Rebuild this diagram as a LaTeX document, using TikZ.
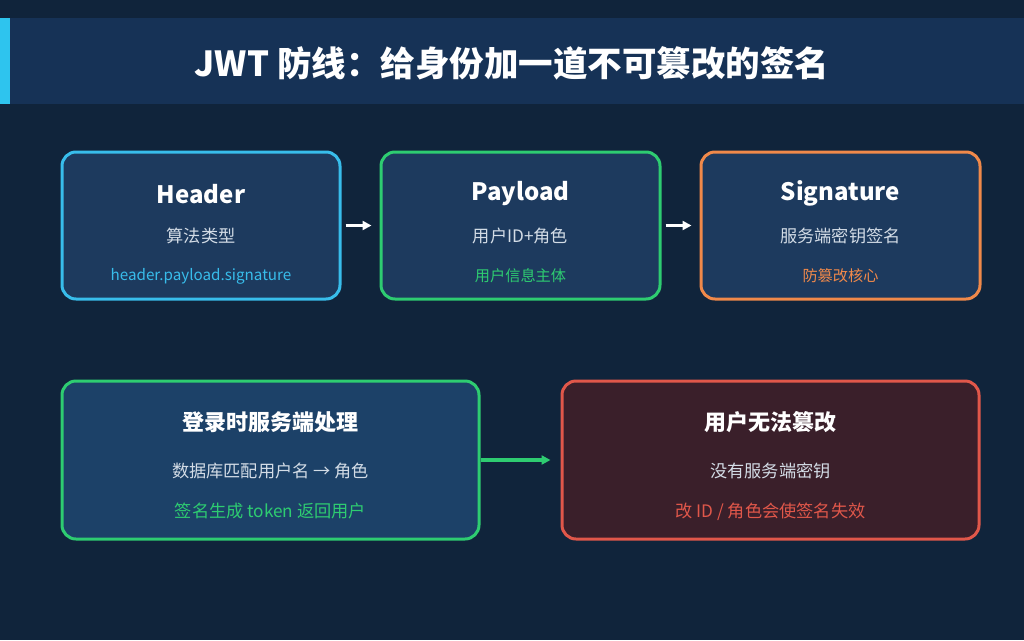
\documentclass[tikz,border=0pt]{standalone}
\usepackage{fontspec}
\setmainfont{Noto Sans CJK SC}
\usetikzlibrary{arrows.meta}
\definecolor{bgc}{HTML}{10243B}
\definecolor{bandc}{HTML}{163256}
\definecolor{accentc}{HTML}{2EC4EE}
\definecolor{boxc}{HTML}{1D3A5E}
\definecolor{boxbc}{HTML}{1C4168}
\definecolor{redfill}{HTML}{3A1F2A}
\definecolor{cyanc}{HTML}{38BDEB}
\definecolor{greenc}{HTML}{2ECC71}
\definecolor{orangec}{HTML}{F0894A}
\definecolor{redc}{HTML}{E0574A}
\definecolor{subc}{HTML}{D3DCE6}
\tikzset{
  card/.style={draw=#1, line width=3pt, rounded corners=14pt, inner sep=0pt},
  headtxt/.style={anchor=base, text=white, font=\bfseries\fontsize{24}{28}\selectfont},
  headcn/.style={anchor=base, text=white, font=\bfseries\fontsize{22}{26}\selectfont},
  subtxt/.style={anchor=base, text=subc, font=\fontsize{17.2}{20}\selectfont},
  notetxt/.style={anchor=base, text=#1, font=\fontsize{15.2}{18}\selectfont},
  notebig/.style={anchor=base, text=#1, font=\fontsize{17.2}{20}\selectfont},
  flow/.style={draw=#1, line width=3.5pt, -{Triangle[length=9pt,width=9pt]}},
}
\begin{document}
\begin{tikzpicture}[x=1pt,y=-1pt]
\useasboundingbox (0,0) rectangle (1024,640);
\fill[bgc] (0,0) rectangle (1024,640);
\fill[bandc] (0,18) rectangle (1024,104);
\fill[accentc] (0,18) rectangle (10,104);
\node[anchor=base, text=white, font=\bfseries\fontsize{34.5}{40}\selectfont] (title) at (512,76) {JWT 防线：给身份加一道不可篡改的签名};

% top row
\node[card=cyanc, fill=boxc, minimum width=278pt, minimum height=147pt] (hdr) at (201,225.5) {};
\node[card=greenc, fill=boxc, minimum width=279pt, minimum height=147pt] (pay) at (520.5,225.5) {};
\node[card=orangec, fill=boxc, minimum width=279pt, minimum height=147pt] (sig) at (840.5,225.5) {};

\node[headtxt] (hdrT) at (201,203) {Header};
\node[subtxt] (hdrS) at (201,242) {算法类型};
\node[notetxt=cyanc] (hdrN) at (201,280) {header.payload.signature};

\node[headtxt] (payT) at (520.5,200) {Payload};
\node[subtxt] (payS) at (520.5,242) {用户ID+角色};
\node[notetxt=greenc] (payN) at (520.5,281.5) {用户信息主体};

\node[headtxt] (sigT) at (840.5,200) {Signature};
\node[subtxt] (sigS) at (840.5,242) {服务端密钥签名};
\node[notetxt=orangec] (sigN) at (840.5,281.5) {防篡改核心};

\draw[flow=white, shorten <=4pt, shorten >=8pt] (hdr.east) -- (pay.west);
\draw[flow=white, shorten <=4pt, shorten >=8pt] (pay.east) -- (sig.west);

% bottom row
\node[card=greenc, fill=boxbc, minimum width=417pt, minimum height=158pt] (login) at (270.5,460) {};
\node[card=redc, fill=redfill, minimum width=417pt, minimum height=158pt] (nope) at (770.5,460) {};

\node[headcn] (loginT) at (270.5,430.5) {登录时服务端处理};
\node[subtxt] (loginS) at (270.5,477) {数据库匹配用户名 → 角色};
\node[notebig=greenc] (loginN) at (270.5,517) {签名生成 token 返回用户};

\node[headcn] (nopeT) at (770.5,430.5) {用户无法篡改};
\node[subtxt] (nopeS) at (770.5,477) {没有服务端密钥};
\node[notebig=redc] (nopeN) at (770.5,517) {改 ID / 角色会使签名失效};

\draw[flow=greenc, shorten <=0pt, shorten >=10pt] (login.east) -- (nope.west);
\end{tikzpicture}
\end{document}
